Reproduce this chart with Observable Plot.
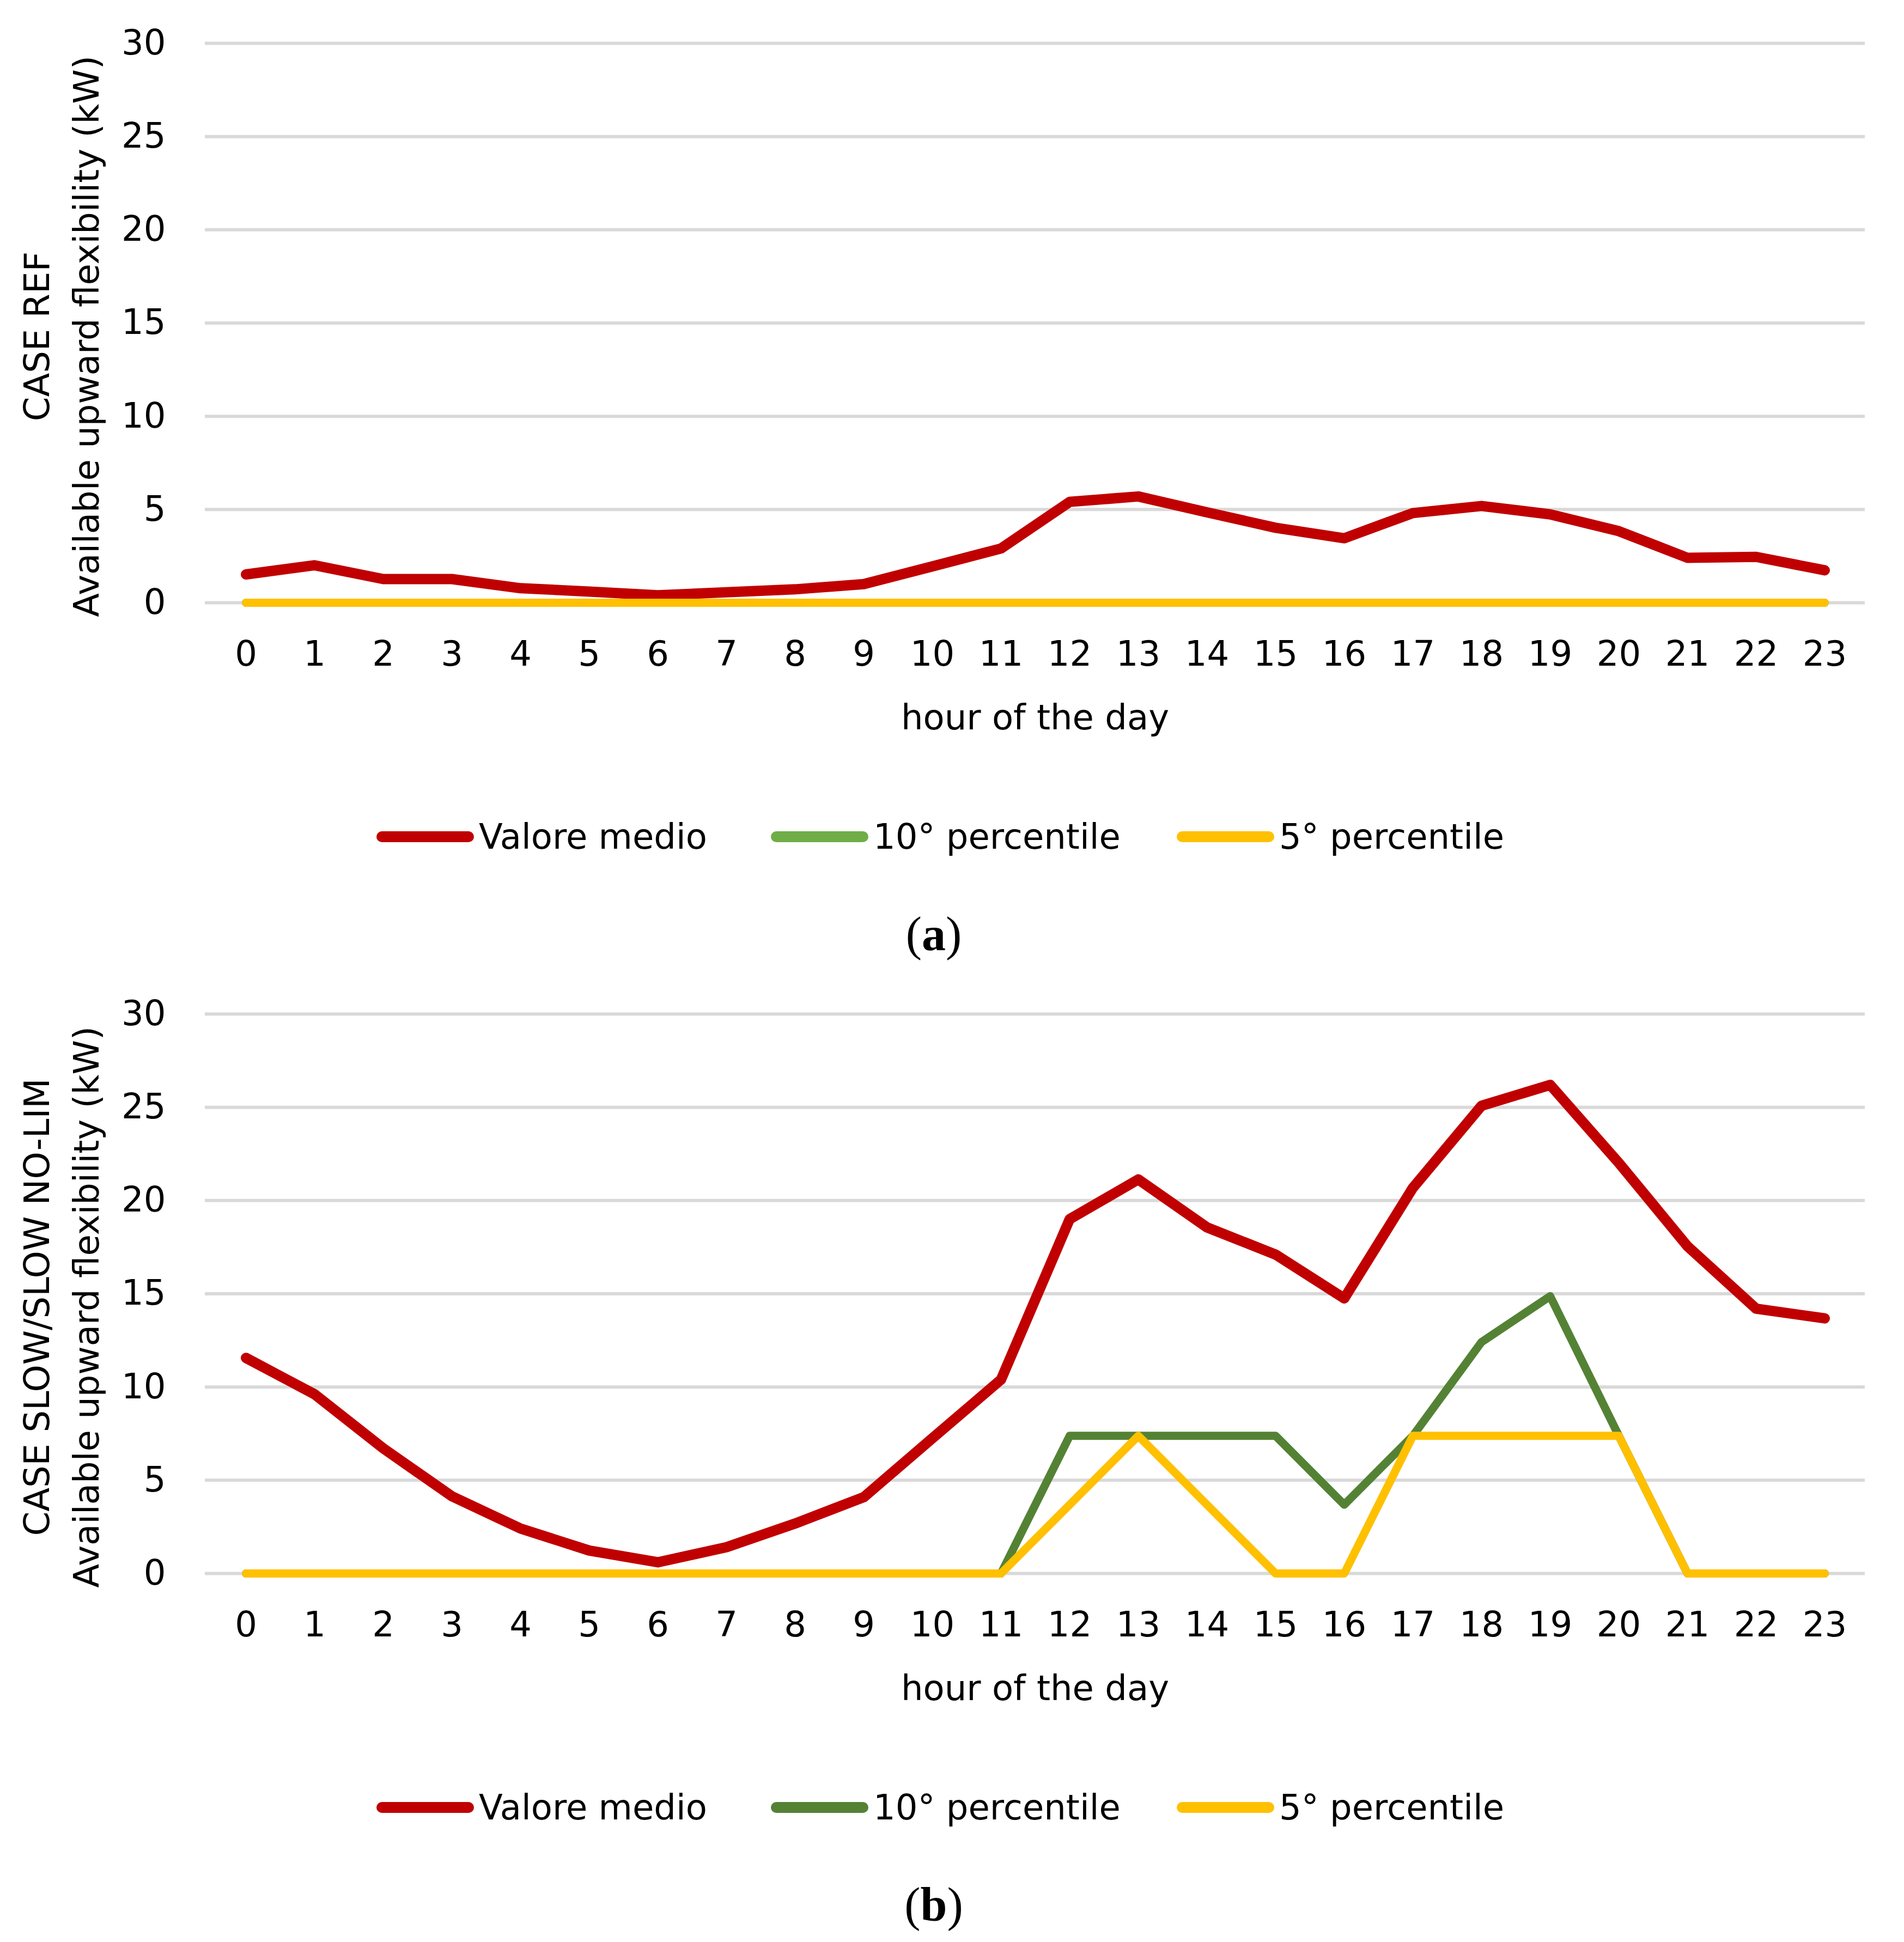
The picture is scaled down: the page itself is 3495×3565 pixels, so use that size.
<!DOCTYPE html>
<html>
<head>
<meta charset="utf-8">
<script src="https://cdn.jsdelivr.net/npm/d3@7"></script>
<script src="https://cdn.jsdelivr.net/npm/@observablehq/plot@0.6"></script>
<style>
  body { margin: 0; background: #fff; }
  #root { position: relative; width: 3495px; height: 3565px; background: #fff; font-family: "DejaVu Sans", sans-serif; }
  .panel { position: absolute; left: 0; }
  .leg { position: absolute; display: flex; align-items: center; font-size: 64px; line-height: 76px; color: #000; white-space: nowrap; font-family: "DejaVu Sans", sans-serif; }
  .sw { width: 179px; height: 20px; border-radius: 10px; margin-right: 9px; flex: none; }
  .cap { position: absolute; font-family: "Liberation Serif", serif; font-size: 88px; line-height: 88px; transform: translateX(-50%); color: #000; white-space: nowrap; }
</style>
</head>
<body>
<div id="root"></div>
<script>
// ---- data ----
const hours = [0, 1, 2, 3, 4, 5, 6, 7, 8, 9, 10, 11, 12, 13, 14, 15, 16, 17, 18, 19, 20, 21, 22, 23];
const yTicks = [0, 5, 10, 15, 20, 25, 30];
const seriesNames = ["Valore medio", "10° percentile", "5° percentile"];

// Panel (a) CASE REF
const refMean = [1.52, 2.01, 1.27, 1.27, 0.78, 0.60, 0.40, 0.56, 0.72, 1.00, 1.95, 2.91, 5.41, 5.70, 4.85, 4.02, 3.46, 4.81, 5.19, 4.74, 3.84, 2.41, 2.46, 1.74];
const refP10  = [0, 0, 0, 0, 0, 0, 0, 0, 0, 0, 0, 0, 0, 0, 0, 0, 0, 0, 0, 0, 0, 0, 0, 0];
const refP5   = [0, 0, 0, 0, 0, 0, 0, 0, 0, 0, 0, 0, 0, 0, 0, 0, 0, 0, 0, 0, 0, 0, 0, 0];

// Panel (b) CASE SLOW/SLOW NO-LIM
const slowMean = [11.56, 9.61, 6.71, 4.14, 2.41, 1.23, 0.60, 1.41, 2.68, 4.09, 7.25, 10.40, 19.00, 21.13, 18.56, 17.10, 14.75, 20.68, 25.08, 26.20, 22.02, 17.55, 14.20, 13.68];
const slowP10  = [0, 0, 0, 0, 0, 0, 0, 0, 0, 0, 0, 0, 7.38, 7.38, 7.38, 7.38, 3.69, 7.38, 12.41, 14.87, 7.38, 0, 0, 0];
const slowP5   = [0, 0, 0, 0, 0, 0, 0, 0, 0, 0, 0, 0, 3.69, 7.38, 3.69, 0, 0, 7.38, 7.38, 7.38, 7.38, 0, 0, 0];

const panels = [
  {
    top: 0,
    yTitle: "CASE REF\nAvailable upward flexibility (kW)",
    caption: "a",
    series: [refMean, refP10, refP5],
    colors: ["#C00000", "#70AD47", "#FFC000"]
  },
  {
    top: 1782,
    yTitle: "CASE SLOW/SLOW NO-LIM\nAvailable upward flexibility (kW)",
    caption: "b",
    series: [slowMean, slowP10, slowP5],
    colors: ["#C00000", "#548235", "#FFC000"]
  }
];

const lineWidths = [19, 15, 15];
const legendLeft = [691, 1415, 2160];

const root = document.getElementById("root");

for (const p of panels) {
  const lineMarks = p.series.map((vals, k) =>
    Plot.line(hours.map((h, i) => ({hour: h, value: vals[i]})), {
      x: "hour",
      y: "value",
      stroke: p.colors[k],
      strokeWidth: lineWidths[k],
      strokeLinecap: "round",
      strokeLinejoin: "round"
    })
  );

  const svg = Plot.plot({
    width: 3495,
    height: 1400,
    marginTop: 79,
    marginBottom: 294,
    marginLeft: 376,
    marginRight: 72,
    style: {fontFamily: "DejaVu Sans, sans-serif", fontSize: "64px", background: "white", color: "#000", overflow: "visible"},
    x: {type: "point", domain: hours, padding: 0.5, label: null},
    y: {domain: [0, 30], label: null},
    marks: [
      Plot.gridY(yTicks, {stroke: "#D9D9D9", strokeWidth: 6, strokeOpacity: 1}),
      Plot.axisY(yTicks, {tickSize: 0, tickPadding: 72, label: null, fontSize: 64}),
      Plot.axisX(hours, {tickSize: 0, tickPadding: 70, label: null, fontSize: 64}),
      ...lineMarks,
      Plot.text([p.yTitle], {
        frameAnchor: "left", rotate: -90, dx: -270.5, dy: 24.5,
        lineHeight: 1.42, lineAnchor: "middle", textAnchor: "middle",
        fontSize: 64, fill: "#000"
      }),
      Plot.text(["hour of the day"], {
        frameAnchor: "bottom", dy: 212.5, lineAnchor: "middle",
        fontSize: 64, fill: "#000"
      })
    ]
  });
  svg.classList.add("panel");
  svg.style.top = p.top + "px";
  root.appendChild(svg);

  // legend
  seriesNames.forEach((name, k) => {
    const item = document.createElement("div");
    item.className = "leg";
    item.style.left = legendLeft[k] + "px";
    item.style.top = (p.top + 1498) + "px";
    const sw = document.createElement("div");
    sw.className = "sw";
    sw.style.background = p.colors[k];
    const t = document.createElement("span");
    t.textContent = name;
    item.appendChild(sw);
    item.appendChild(t);
    root.appendChild(item);
  });

  // caption
  const cap = document.createElement("div");
  cap.className = "cap";
  cap.style.left = "1714px";
  cap.style.top = (p.top + 1671) + "px";
  cap.innerHTML = "(<b>" + p.caption + "</b>)";
  root.appendChild(cap);
}
</script>
</body>
</html>
